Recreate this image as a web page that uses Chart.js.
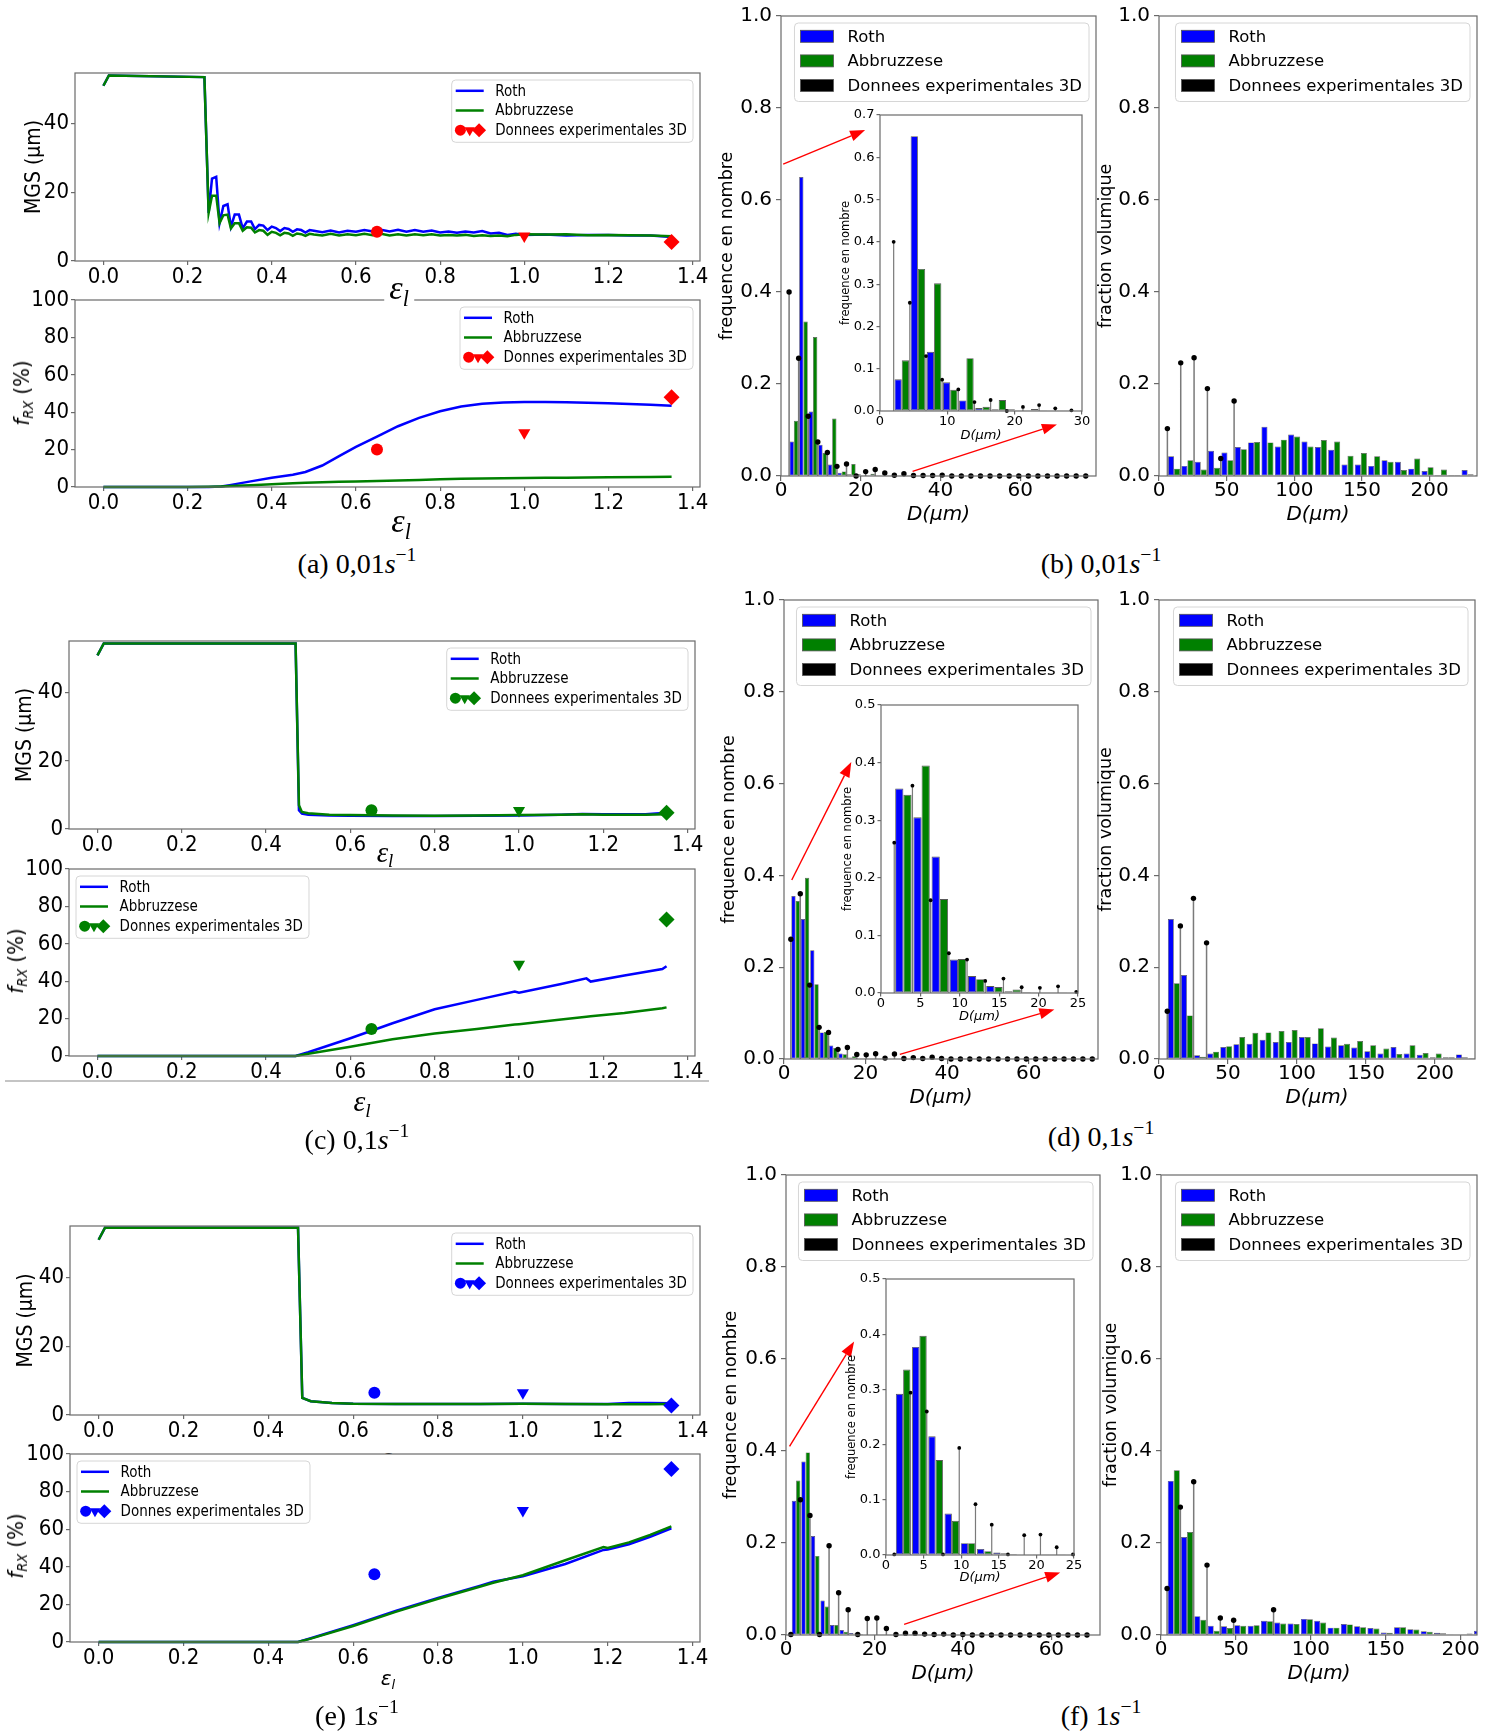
<!DOCTYPE html>
<html lang="fr">
<head>
<meta charset="UTF-8">
<title>MGS, fRX et distributions de tailles de grains</title>
<script src="https://cdn.jsdelivr.net/npm/chart.js"></script>
<style>
  html, body { margin: 0; padding: 0; background: #fff; }
  #fig { position: relative; width: 1494px; height: 1735px; overflow: hidden; background: #fff; }
  #fig canvas { position: absolute; z-index: 1; }
  .t { position: absolute; z-index: 2; transform: translate(-50%, -50%); white-space: nowrap; color: #000; line-height: 1; }
  .t sub { font-size: 0.65em; vertical-align: -0.3em; line-height: 0; }
  .t sup { font-size: 0.7em; vertical-align: 0.6em; line-height: 0; }
  .cap { font-family: 'Liberation Serif', 'DejaVu Serif', serif; font-size: 28px; }
  .eps { font-family: 'Liberation Serif', 'DejaVu Serif', serif; font-style: italic; }
  .rot { transform: translate(-50%, -50%) rotate(-90deg); }
</style>
</head>
<body>
<div id="fig"></div>
<script>
// ---------- axes shared by the line plots ----------
const epsTicks = [0.0, 0.2, 0.4, 0.6, 0.8, 1.0, 1.2, 1.4];
const mgsTicks = [0, 20, 40];
const frxTicks = [0, 20, 40, 60, 80, 100];
const expEps = [0.65, 1.0, 1.35];

// ---------- (a) 0,01 s-1 ----------
const aMgsX = [0, 0.013, 0.24, 0.25, 0.258, 0.268, 0.276, 0.285, 0.295, 0.303,
  0.312, 0.322, 0.331, 0.341, 0.351, 0.36, 0.37, 0.38, 0.39, 0.4,
  0.41, 0.42, 0.43, 0.44, 0.45, 0.46, 0.47, 0.48, 0.49, 0.5,
  0.52, 0.54, 0.56, 0.58, 0.6, 0.62, 0.64, 0.66, 0.68, 0.7,
  0.72, 0.74, 0.76, 0.78, 0.8, 0.82, 0.84, 0.86, 0.88, 0.9,
  0.92, 0.94, 0.96, 0.98, 1.0, 1.05, 1.1, 1.15, 1.2, 1.25, 1.3, 1.35];
const aMgsRoth = [51, 54, 53.5, 14, 24, 24.5, 11, 16, 16.5, 10,
  13.5, 13.5, 9.5, 11.5, 11.5, 9.3, 10.5, 10.3, 9, 10,
  9.6, 8.7, 9.6, 9.3, 8.5, 9.2, 9, 8.3, 9, 8.8,
  8.4, 8.9, 8.3, 8.8, 8.5, 9, 8.6, 9.1, 8.6, 9.1,
  8.5, 9, 8.5, 8.9, 8.3, 8.6, 8.2, 8.6, 8.3, 8.7,
  8, 8.2, 7.6, 7.9, 7.6, 7.7, 7.4, 7.6, 7.6, 7.4, 7.4, 7];
const aMgsAbbr = [51, 54, 53.5, 14, 19, 19, 11, 13.3, 13.5, 9.5,
  11, 11, 8.8, 9.8, 9.7, 8.3, 9, 8.8, 7.6, 8.5,
  8.2, 7.5, 8.2, 8, 7.3, 8, 7.8, 7.3, 7.9, 7.7,
  7.4, 7.9, 7.4, 7.8, 7.5, 7.9, 7.5, 7.9, 7.4, 7.8,
  7.4, 7.8, 7.5, 7.8, 7.4, 7.6, 7.4, 7.6, 7.3, 7.5,
  7.3, 7.4, 7.2, 7.6, 7.8, 7.7, 7.8, 7.5, 7.6, 7.5, 7.4, 7.2];
const aMgsExp = [8.5, 7.3, 5.5];

const aFrxX = [0, 0.1, 0.2, 0.25, 0.28, 0.3, 0.35, 0.4, 0.45, 0.48, 0.52, 0.56, 0.6,
  0.65, 0.7, 0.75, 0.8, 0.85, 0.9, 0.95, 1.0, 1.05, 1.1, 1.2, 1.3, 1.35];
const aFrxRoth = [0, 0, 0, 0, 0.3, 1, 3, 5, 6.5, 8, 11.5, 16.5, 21.5,
  27, 32.5, 37, 40.5, 43, 44.5, 45.2, 45.5, 45.5, 45.3, 44.8, 44, 43.5];
const aFrxAbbr = [0, 0, 0, 0.1, 0.3, 0.5, 1, 1.5, 2, 2.3, 2.6, 2.8, 3,
  3.2, 3.5, 3.8, 4.2, 4.4, 4.5, 4.7, 4.8, 4.9, 5, 5.2, 5.4, 5.5];
const aFrxExp = [20, 29, 48];

// ---------- (c) 0,1 s-1 ----------
const cMgsX = [0, 0.015, 0.47, 0.478, 0.485, 0.5, 0.55, 0.6, 0.7, 0.8, 0.9, 1.0, 1.1, 1.15, 1.2, 1.3, 1.35];
const cMgsRoth = [51, 54.5, 54.5, 5.5, 4.5, 4.2, 4, 3.9, 3.8, 3.8, 3.9, 4, 4.2, 4.4, 4.3, 4.3, 4.8];
const cMgsAbbr = [51, 54.5, 54.5, 7, 5, 4.6, 4.2, 4.1, 4, 3.9, 4, 4.1, 4.2, 4.3, 4.2, 4.2, 4.3];
const cMgsExp = [5.5, 5.4, 4.8];

const cFrxX = [0, 0.47, 0.5, 0.6, 0.65, 0.7, 0.8, 0.9, 0.99, 1.0, 1.1, 1.16, 1.17, 1.25, 1.34, 1.35];
const cFrxRoth = [0, 0, 2, 9.5, 13.5, 17.5, 25, 30, 34.5, 33.8, 38.5, 41.5, 39.8, 43, 46.5, 48];
const cFrxAbbr = [0, 0, 1.2, 5, 7, 9, 12, 14.5, 16.8, 17, 19.5, 21, 21.3, 23, 25.5, 26];
const cFrxExp = [14.5, 49, 73];

// ---------- (e) 1 s-1 ----------
const eMgsX = [0, 0.015, 0.47, 0.48, 0.5, 0.55, 0.6, 0.7, 0.8, 0.9, 1.0, 1.1, 1.2, 1.25, 1.3, 1.35];
const eMgsRoth = [51, 54.5, 54.5, 5, 4, 3.5, 3.3, 3.2, 3.2, 3.2, 3.3, 3.2, 3.2, 3.5, 3.5, 3.4];
const eMgsAbbr = [51, 54.5, 54.5, 5, 4, 3.5, 3.3, 3.2, 3.2, 3.2, 3.3, 3.2, 3.1, 3.1, 3.1, 3.2];
const eMgsExp = [6.5, 6.5, 2.8];

const eFrxX = [0, 0.47, 0.5, 0.6, 0.7, 0.8, 0.9, 0.93, 1.0, 1.1, 1.19, 1.2, 1.25, 1.3, 1.35];
const eFrxRoth = [0, 0, 2, 9, 16.5, 23.5, 30, 32, 35, 41.5, 49, 49.2, 52, 56, 60.5];
const eFrxAbbr = [0, 0, 1.8, 8.5, 16, 23, 29.5, 31.5, 35.5, 43.5, 50.5, 50, 53, 57, 61.5];
const eFrxExp = [36, 70, 92];

// ---------- histogram ticks ----------
const fracTicks = [0, 0.2, 0.4, 0.6, 0.8, 1.0];
const numTicks = [0, 20, 40, 60];
const volTicks = [0, 50, 100, 150, 200];
const insetBxTicks = [0, 10, 20, 30];
const insetByTicks = [0, 0.1, 0.2, 0.3, 0.4, 0.5, 0.6, 0.7];
const insetxTicks = [0, 5, 10, 15, 20, 25];
const insetyTicks = [0, 0.1, 0.2, 0.3, 0.4, 0.5];

// ---------- (b) number / volume distributions ----------
const bNumD = [3.23, 5.63, 8.03, 10.43, 12.83, 15.23, 17.63, 20.03, 22.43, 24.83, 27.23, 29.63];
const bNumRoth = [0.075, 0.65, 0.14, 0.068, 0.025, 0.007, 0.004, 0.004, 0.0016, 0.0016, 0.0016, 0.001];
const bNumAbbr = [0.12, 0.336, 0.302, 0.05, 0.125, 0.01, 0.026, 0.0016, 0.005, 0.001, 0.0005, 0.0005];
const bNumExpD = [2.03, 4.43, 6.83, 9.23, 11.63, 14.03, 16.43, 18.83, 21.23, 23.63, 26.03, 28.43,
  30.83, 33.23, 35.63, 38.03, 40.43, 42.83, 45.23, 47.63, 50.03, 52.43, 54.83, 57.23,
  59.63, 62.03, 64.43, 66.83, 69.23, 71.63, 74.03, 76.43];
const bNumExp = [0.40, 0.256, 0.13, 0.074, 0.051, 0.021, 0.026, 0, 0.0096, 0.014, 0.0064, 0.0016,
  0.005, 0.001, 0.001, 0.001, 0.002, 0, 0, 0, 0, 0, 0, 0,
  0, 0, 0, 0, 0, 0, 0, 0];

const bVolD = [11.13, 20.99, 30.85, 40.71, 50.57, 60.43, 70.29, 80.15, 90.01, 99.87, 109.73, 119.59,
  129.45, 139.31, 149.17, 159.03, 168.89, 178.75, 188.61, 198.47, 208.33, 218.19, 228.05, 237.91];
const bVolRoth = [0.043, 0.022, 0.031, 0.055, 0.051, 0.063, 0.073, 0.107, 0.064, 0.09, 0.075, 0.063,
  0.057, 0.025, 0.025, 0.022, 0.034, 0.031, 0.016, 0.011, 0.002, 0.002, 0.013, 0.002];
const bVolAbbr = [0.016, 0.034, 0.014, 0.018, 0.034, 0.058, 0.074, 0.073, 0.079, 0.086, 0.064, 0.078,
  0.075, 0.044, 0.05, 0.043, 0.031, 0.013, 0.038, 0.019, 0.014, 0.002, 0.004, 0];
const bVolExpD = [6.2, 16.06, 25.92, 35.78, 45.64, 55.5];
const bVolExp = [0.103, 0.246, 0.257, 0.19, 0.038, 0.163];

// ---------- (d) ----------
const dNumD = [2.84, 5.15, 7.46, 9.77, 12.08, 14.39, 16.70, 19.01, 21.32, 23.63];
const dNumRoth = [0.355, 0.305, 0.237, 0.058, 0.0295, 0.012, 0.003, 0.0017, 0.0006, 0.0003];
const dNumAbbr = [0.344, 0.395, 0.163, 0.059, 0.024, 0.0104, 0.006, 0.0006, 0.0003, 0];
const dNumExpD = [1.68, 3.99, 6.30, 8.61, 10.92, 13.23, 15.54, 17.85, 20.16, 22.47, 24.78,
  27.09, 29.40, 31.71, 34.02, 36.33, 38.64, 40.95, 43.26, 45.57, 47.88, 50.19,
  52.50, 54.81, 57.12, 59.43, 61.74, 64.05, 66.36, 68.67, 70.98, 73.29, 75.60];
const dNumExp = [0.261, 0.36, 0.161, 0.069, 0.058, 0.021, 0.025, 0.010, 0.009, 0.0116, 0.002,
  0.011, 0.001, 0.003, 0.001, 0.004, 0.001, 0, 0, 0, 0, 0,
  0, 0, 0, 0, 0, 0, 0, 0, 0, 0, 0];

const dVolD = [10.75, 20.24, 29.73, 39.22, 48.71, 58.20, 67.69, 77.18, 86.67, 96.16, 105.65, 115.14,
  124.63, 134.12, 143.61, 153.10, 162.59, 172.08, 181.57, 191.06, 200.55, 210.04, 219.53, 229.02];
const dVolRoth = [0.305, 0.183, 0.008, 0.012, 0.026, 0.032, 0.033, 0.042, 0.037, 0.037, 0.048, 0.034,
  0.027, 0.03, 0.025, 0.017, 0.012, 0.026, 0.012, 0.009, 0.004, 0.004, 0.01, 0.002];
const dVolAbbr = [0.165, 0.095, 0.005, 0.016, 0.028, 0.048, 0.057, 0.058, 0.061, 0.063, 0.048, 0.067,
  0.047, 0.033, 0.039, 0.03, 0.023, 0.011, 0.03, 0.013, 0.012, 0.004, 0.004, 0];
const dVolExpD = [6.0, 15.49, 24.98, 34.47];
const dVolExp = [0.104, 0.29, 0.35, 0.253];

// ---------- (f) ----------
const fNumD = [2.28, 4.44, 6.60, 8.76, 10.92, 13.08, 15.24, 17.40, 19.56, 21.72, 23.88];
const fNumRoth = [0.292, 0.377, 0.215, 0.075, 0.0215, 0.011, 0.0046, 0.002, 0.001, 0.0005, 0.0003];
const fNumAbbr = [0.336, 0.397, 0.172, 0.062, 0.0215, 0.007, 0.003, 0.001, 0.0005, 0.0003, 0];
const fNumExpD = [1.1, 3.26, 5.42, 7.58, 9.74, 11.90, 14.06, 16.22, 18.38, 20.54, 22.70,
  24.86, 27.02, 29.18, 31.34, 33.50, 35.66, 37.82, 39.98, 42.14, 44.30, 46.46,
  48.62, 50.78, 52.94, 55.10, 57.26, 59.42, 61.58, 63.74, 65.90, 68.06];
const fNumExp = [0.001, 0.294, 0.26, 0.001, 0.194, 0.092, 0.055, 0.001, 0.036, 0.037, 0.014,
  0.001, 0.004, 0.004, 0.002, 0.001, 0.002, 0, 0.001, 0, 0, 0,
  0, 0, 0, 0, 0, 0, 0, 0, 0, 0];

const fVolD = [8.5, 17.39, 26.28, 35.17, 44.06, 52.95, 61.84, 70.73, 79.62, 88.51, 97.4, 106.29,
  115.18, 124.07, 132.96, 141.85, 150.74, 159.63, 168.52, 177.41, 186.3, 195.19, 204.08, 212.97];
const fVolRoth = [0.335, 0.213, 0.041, 0.02, 0.019, 0.021, 0.02, 0.031, 0.027, 0.025, 0.035, 0.031,
  0.016, 0.024, 0.019, 0.015, 0.0055, 0.017, 0.0125, 0.008, 0.0047, 0.0016, 0.0016, 0.0094];
const fVolAbbr = [0.358, 0.224, 0.033, 0.0094, 0.015, 0.02, 0.021, 0.03, 0.025, 0.024, 0.034, 0.027,
  0.016, 0.023, 0.017, 0.014, 0.0047, 0.017, 0.0118, 0.007, 0.004, 0, 0.003, 0];
const fVolExpD = [4.05, 12.94, 21.83, 30.72, 39.61, 48.5, 75.17];
const fVolExp = [0.101, 0.278, 0.333, 0.152, 0.037, 0.032, 0.055];

// zoom arrows, in data units of the main number histogram: [x0, y0, x1, y1]
const bArrows = [[0.55, 0.678, 21.1, 0.752], [33, 0.01, 69.2, 0.112]];
const dArrows = [[1.9, 0.39, 16.5, 0.647], [28.4, 0.01, 66.3, 0.108]];
const fArrows = [[0.8, 0.41, 15.4, 0.638], [26.7, 0.023, 62, 0.136]];

// ---------- drawing ----------
const fig = document.getElementById('fig');
const COND = "'DejaVu Sans Condensed', 'Liberation Sans Narrow', 'DejaVu Sans', sans-serif";
const SANS = "'DejaVu Sans', sans-serif";
const BLUE = '#0000ff', GREEN = '#008000', RED = '#ff0000';
const SPINE = '#6a6a6a';

// white axes background + full box around the plot area
const frame = {
  id: 'frame',
  beforeDraw(chart) {
    const {ctx, chartArea: a} = chart;
    ctx.save();
    ctx.fillStyle = '#fff';
    ctx.fillRect(a.left, a.top, a.right - a.left, a.bottom - a.top);
    ctx.restore();
  },
  afterDatasetsDraw(chart) {
    const {ctx, chartArea: a} = chart;
    ctx.save();
    ctx.strokeStyle = SPINE;
    ctx.lineWidth = 1.2;
    ctx.strokeRect(a.left, a.top, a.right - a.left, a.bottom - a.top);
    ctx.restore();
  }
};

// matplotlib-like legend box inside the axes
const boxLegend = {
  id: 'boxLegend',
  afterDatasetsDraw(chart, args, o) {
    if (!o.items) return;
    const {ctx, chartArea: a} = chart;
    ctx.save();
    ctx.font = o.size + 'px ' + o.family;
    const tw = Math.max(...o.items.map(it => ctx.measureText(it.text).width));
    const w = o.padL + o.handleW + o.gap + tw + o.padR;
    const h = o.padT + o.rowH * (o.items.length - 1) + o.padB;
    const x0 = o.loc === 'ul' ? a.left + o.margin : a.right - o.margin - w;
    const y0 = a.top + o.margin;
    ctx.beginPath();
    ctx.roundRect(x0, y0, w, h, 4);
    ctx.fillStyle = 'rgba(255,255,255,0.85)';
    ctx.fill();
    ctx.strokeStyle = '#d6d6d6';
    ctx.lineWidth = 1;
    ctx.stroke();
    o.items.forEach((it, i) => {
      const yc = y0 + o.padT + i * o.rowH;
      const hx = x0 + o.padL;
      if (it.kind === 'line') {
        ctx.strokeStyle = it.color;
        ctx.lineWidth = 2.5;
        ctx.beginPath();
        ctx.moveTo(hx, yc);
        ctx.lineTo(hx + o.handleW, yc);
        ctx.stroke();
      } else if (it.kind === 'rect') {
        ctx.fillStyle = it.color;
        ctx.fillRect(hx, yc - o.handleH / 2, o.handleW, o.handleH);
        ctx.strokeStyle = '#555';
        ctx.lineWidth = 0.8;
        ctx.strokeRect(hx, yc - o.handleH / 2, o.handleW, o.handleH);
      } else {
        ctx.fillStyle = it.color;
        ctx.strokeStyle = it.color;
        const styles = [['circle', 0, 5.5], ['triangle', 180, 6], ['rectRot', 0, 7]];
        styles.forEach(([ps, rot, r], k) => {
          Chart.helpers.drawPoint(ctx, {pointStyle: ps, rotation: rot, radius: r, borderWidth: 0},
            hx + o.handleW * (k + 0.5) / 3, yc);
        });
      }
      ctx.fillStyle = '#000';
      ctx.textBaseline = 'middle';
      ctx.textAlign = 'left';
      ctx.fillText(it.text, hx + o.handleW + o.gap, yc + 1);
    });
    ctx.restore();
  }
};

// red zoom arrows
const arrows = {
  id: 'arrows',
  afterDraw(chart, args, o) {
    if (!o.list) return;
    const {ctx, scales} = chart;
    ctx.save();
    ctx.strokeStyle = RED;
    ctx.fillStyle = RED;
    ctx.lineWidth = 1.4;
    o.list.forEach(([xa, ya, xb, yb]) => {
      const x1 = scales.x.getPixelForValue(xa), y1 = scales.y.getPixelForValue(ya);
      const x2 = scales.x.getPixelForValue(xb), y2 = scales.y.getPixelForValue(yb);
      const ang = Math.atan2(y2 - y1, x2 - x1);
      const L = 15, W = 5.5, c = Math.cos(ang), s = Math.sin(ang);
      ctx.beginPath();
      ctx.moveTo(x1, y1);
      ctx.lineTo(x2 - L * c, y2 - L * s);
      ctx.stroke();
      ctx.beginPath();
      ctx.moveTo(x2, y2);
      ctx.lineTo(x2 - L * c + W * s, y2 - L * s - W * c);
      ctx.lineTo(x2 - L * c - W * s, y2 - L * s + W * c);
      ctx.closePath();
      ctx.fill();
    });
    ctx.restore();
  }
};

Chart.register(frame, boxLegend, arrows);

function addCanvas(box, m) {
  const c = document.createElement('canvas');
  c.width = box.r - box.l + m.l + m.r;
  c.height = box.b - box.t + m.t + m.b;
  c.style.left = (box.l - m.l) + 'px';
  c.style.top = (box.t - m.t) + 'px';
  fig.appendChild(c);
  return c;
}

function pts(xs, ys) {
  return xs.map((x, i) => ({x: x, y: ys[i]}));
}

// stem plot as one broken line: base, top, gap for every experimental point
function stems(xs, ys) {
  const out = [];
  xs.forEach((x, i) => { out.push({x: x, y: 0}, {x: x, y: ys[i]}, {x: x, y: null}); });
  return out;
}

function axis(list, family, size, tickLen, fmt) {
  return {
    type: 'linear',
    afterBuildTicks: s => { s.ticks = list.map(v => ({value: v})); },
    ticks: {font: {family: family, size: size, lineHeight: 1}, color: '#000', padding: 3,
      maxRotation: 0, autoSkip: false, callback: fmt},
    grid: {drawOnChartArea: false, drawTicks: true, tickLength: tickLen, color: SPINE, lineWidth: 1.2},
    border: {display: false}
  };
}

function baseOptions(m, scales, plugins) {
  scales.x.afterFit = s => { s.height = m.b; };
  scales.y.afterFit = s => { s.width = m.l; };
  return {
    responsive: false,
    animation: false,
    events: [],
    layout: {padding: {left: 0, top: m.t, right: m.r, bottom: 0}},
    scales: scales,
    plugins: Object.assign({legend: {display: false}, tooltip: {enabled: false}}, plugins)
  };
}

const lineLegendStyle = {family: COND, size: 15, padL: 4, handleW: 28, gap: 11.5, padR: 6,
  padT: 10.8, rowH: 19.7, padB: 12.1, margin: 7, handleH: 0};
const histLegendStyle = {family: SANS, size: 16.5, padL: 6, handleW: 33, handleH: 12, gap: 14, padR: 7,
  padT: 13.3, rowH: 24.6, padB: 16, margin: 7, loc: 'ur'};

function lineFigure(box, m, d) {
  const c = addCanvas(box, m);
  const x = axis(epsTicks, COND, 22, 4, v => v.toFixed(1));
  x.min = -0.0675;
  x.max = 1.4175;
  x.ticks.padding = 1;
  const y = axis(d.yTicks, COND, 22, 4, v => String(v));
  y.min = 0;
  y.max = d.yMax;
  y.ticks.padding = 2;
  if (d.yTitle) {
    y.title = {display: true, text: d.yTitle, color: '#000', padding: 0, font: {family: COND, size: 21}};
  }
  return new Chart(c, {
    type: 'scatter',
    data: {datasets: [
      {label: 'Roth', data: pts(d.rothX, d.roth), showLine: true, borderColor: BLUE,
        borderWidth: 2.5, pointRadius: 0, order: 2, clip: 3},
      {label: 'Abbruzzese', data: pts(d.abbrX, d.abbr), showLine: true, borderColor: GREEN,
        borderWidth: 2.5, pointRadius: 0, order: 1, clip: 3},
      {label: d.expLabel, data: pts(expEps, d.exp), pointStyle: ['circle', 'triangle', 'rectRot'],
        pointRotation: [0, 180, 0], pointRadius: [6, 7, 8], backgroundColor: d.mark,
        borderColor: d.mark, borderWidth: 0, order: 0, clip: false}
    ]},
    options: baseOptions(m, {x: x, y: y}, {
      boxLegend: Object.assign({}, lineLegendStyle, {loc: d.loc, items: [
        {kind: 'line', color: BLUE, text: 'Roth'},
        {kind: 'line', color: GREEN, text: 'Abbruzzese'},
        {kind: 'marks', color: d.mark, text: d.expLabel}
      ]})
    })
  });
}

function histFigure(box, m, d) {
  const c = addCanvas(box, m);
  const small = !!d.small;
  const x = axis(d.xTicks, SANS, small ? 13 : 20, small ? 3.5 : 5, v => String(v));
  x.min = 0;
  x.max = d.xMax;
  x.offset = false;
  x.grid.offset = false;
  x.ticks.padding = small ? 1 : 0;
  x.title = {display: true, text: 'D(μm)', color: '#000', padding: 0,
    font: {family: SANS, size: small ? 13 : 20, style: 'italic'}};
  const y = axis(d.yTicks, SANS, small ? 13 : 20, small ? 3.5 : 5, v => v.toFixed(1));
  y.min = 0;
  y.max = d.yMax;
  y.ticks.padding = small ? 2 : 4;
  y.title = {display: true, text: d.yTitle || 'frequence en nombre', color: '#000', padding: 0,
    font: {family: SANS, size: small ? 11.5 : 17.5}};
  const edge = small ? 0.9 : 0.7;
  const bars = (label, vals, color) => ({
    type: 'bar', label: label, data: pts(d.centers, vals),
    backgroundColor: color, borderColor: 'rgba(60,60,60,0.85)', borderWidth: edge,
    borderSkipped: false, categoryPercentage: 0.9, barPercentage: 1, order: 2
  });
  const plugins = {};
  if (d.legend) {
    plugins.boxLegend = Object.assign({}, histLegendStyle, {items: [
      {kind: 'rect', color: BLUE, text: 'Roth'},
      {kind: 'rect', color: GREEN, text: 'Abbruzzese'},
      {kind: 'rect', color: '#000', text: 'Donnees experimentales 3D'}
    ]});
  }
  if (d.arrows) plugins.arrows = {list: d.arrows};
  return new Chart(c, {
    type: 'bar',
    data: {datasets: [
      bars('Roth', d.roth, BLUE),
      bars('Abbruzzese', d.abbr, GREEN),
      {type: 'line', label: 'stems', data: stems(d.expX, d.expY), spanGaps: false,
        borderColor: '#7a7a7a', borderWidth: small ? 1.2 : 1.5, pointRadius: 0, order: 1, clip: false},
      {type: 'scatter', label: 'Donnees experimentales 3D', data: pts(d.expX, d.expY),
        pointRadius: small ? 1.9 : 2.7, backgroundColor: '#000', borderWidth: 0, order: 0, clip: false}
    ]},
    options: baseOptions(m, {x: x, y: y}, plugins)
  });
}

function text(html, cls, x, y, style) {
  const s = document.createElement('span');
  s.className = 't ' + cls;
  s.innerHTML = html;
  s.style.left = x + 'px';
  s.style.top = y + 'px';
  if (style) s.style.cssText += style;
  fig.appendChild(s);
  return s;
}

const MGS_LBL = 'Donnees experimentales 3D';
const FRX_LBL = 'Donnes experimentales 3D';
const mMgsA = {l: 53, r: 22, t: 12, b: 35};
const mMgs = {l: 56, r: 22, t: 12, b: 35};
const mFrx = {l: 58, r: 22, t: 12, b: 35};

// label of the (e) MGS strain axis sits behind the lower plot
text('ε<sub>l</sub>', '', 389, 1457, "font-family:'DejaVu Sans',sans-serif;font-style:italic;font-size:20px;z-index:0");

// ----- column 1: MGS and fRX vs strain -----
lineFigure({l: 75, t: 72, r: 700, b: 261}, mMgsA, {rothX: aMgsX, roth: aMgsRoth, abbrX: aMgsX, abbr: aMgsAbbr,
  exp: aMgsExp, mark: RED, yTicks: mgsTicks, yMax: 54.7, yTitle: 'MGS (μm)', loc: 'ur', expLabel: MGS_LBL});
lineFigure({l: 75, t: 299, r: 700, b: 487}, mFrx, {rothX: aFrxX, roth: aFrxRoth, abbrX: aFrxX, abbr: aFrxAbbr,
  exp: aFrxExp, mark: RED, yTicks: frxTicks, yMax: 100, loc: 'ur', expLabel: FRX_LBL});

lineFigure({l: 69, t: 640, r: 695, b: 829}, mMgs, {rothX: cMgsX, roth: cMgsRoth, abbrX: cMgsX, abbr: cMgsAbbr,
  exp: cMgsExp, mark: GREEN, yTicks: mgsTicks, yMax: 55.2, yTitle: 'MGS (μm)', loc: 'ur', expLabel: MGS_LBL});
lineFigure({l: 69, t: 868, r: 695, b: 1056}, mFrx, {rothX: cFrxX, roth: cFrxRoth, abbrX: cFrxX, abbr: cFrxAbbr,
  exp: cFrxExp, mark: GREEN, yTicks: frxTicks, yMax: 100, loc: 'ul', expLabel: FRX_LBL});

lineFigure({l: 70, t: 1225, r: 700, b: 1415}, mMgs, {rothX: eMgsX, roth: eMgsRoth, abbrX: eMgsX, abbr: eMgsAbbr,
  exp: eMgsExp, mark: BLUE, yTicks: mgsTicks, yMax: 55, yTitle: 'MGS (μm)', loc: 'ur', expLabel: MGS_LBL});
lineFigure({l: 70, t: 1453, r: 700, b: 1642}, mFrx, {rothX: eFrxX, roth: eFrxRoth, abbrX: eFrxX, abbr: eFrxAbbr,
  exp: eFrxExp, mark: BLUE, yTicks: frxTicks, yMax: 100, loc: 'ul', expLabel: FRX_LBL});

// ----- columns 2 and 3: histograms -----
const mHist = {t: 20, r: 20, b: 51};
histFigure({l: 781, t: 16, r: 1096, b: 476}, Object.assign({l: 64}, mHist), {centers: bNumD, roth: bNumRoth,
  abbr: bNumAbbr, expX: bNumExpD, expY: bNumExp, xMax: 79, xTicks: numTicks, yMax: 1, yTicks: fracTicks,
  legend: true, arrows: bArrows});
histFigure({l: 880, t: 115, r: 1082, b: 411}, {l: 41, t: 10, r: 12, b: 32}, {small: true, centers: bNumD,
  roth: bNumRoth, abbr: bNumAbbr, expX: bNumExpD, expY: bNumExp, xMax: 30, xTicks: insetBxTicks,
  yMax: 0.7, yTicks: insetByTicks});
histFigure({l: 1159, t: 16, r: 1477, b: 476}, Object.assign({l: 63}, mHist), {centers: bVolD, roth: bVolRoth,
  abbr: bVolAbbr, expX: bVolExpD, expY: bVolExp, xMax: 235, xTicks: volTicks, yMax: 1, yTicks: fracTicks,
  legend: true, yTitle: 'fraction volumique'});

histFigure({l: 784, t: 600, r: 1098, b: 1059}, Object.assign({l: 65}, mHist), {centers: dNumD, roth: dNumRoth,
  abbr: dNumAbbr, expX: dNumExpD, expY: dNumExp, xMax: 77, xTicks: numTicks, yMax: 1, yTicks: fracTicks,
  legend: true, arrows: dArrows});
histFigure({l: 881, t: 705, r: 1078, b: 993}, {l: 40, t: 10, r: 12, b: 31}, {small: true, centers: dNumD,
  roth: dNumRoth, abbr: dNumAbbr, expX: dNumExpD, expY: dNumExp, xMax: 25, xTicks: insetxTicks,
  yMax: 0.5, yTicks: insetyTicks});
histFigure({l: 1159, t: 600, r: 1475, b: 1059}, Object.assign({l: 63}, mHist), {centers: dVolD, roth: dVolRoth,
  abbr: dVolAbbr, expX: dVolExpD, expY: dVolExp, xMax: 229, xTicks: volTicks, yMax: 1, yTicks: fracTicks,
  legend: true, yTitle: 'fraction volumique'});

histFigure({l: 786, t: 1175, r: 1100, b: 1635}, Object.assign({l: 65}, mHist), {centers: fNumD, roth: fNumRoth,
  abbr: fNumAbbr, expX: fNumExpD, expY: fNumExp, xMax: 71, xTicks: numTicks, yMax: 1, yTicks: fracTicks,
  legend: true, arrows: fArrows});
histFigure({l: 886, t: 1279, r: 1074, b: 1555}, {l: 41, t: 10, r: 12, b: 30}, {small: true, centers: fNumD,
  roth: fNumRoth, abbr: fNumAbbr, expX: fNumExpD, expY: fNumExp, xMax: 25, xTicks: insetxTicks,
  yMax: 0.5, yTicks: insetyTicks});
histFigure({l: 1161, t: 1175, r: 1477, b: 1635}, Object.assign({l: 60}, mHist), {centers: fVolD, roth: fVolRoth,
  abbr: fVolAbbr, expX: fVolExpD, expY: fVolExp, xMax: 211, xTicks: volTicks, yMax: 1, yTicks: fracTicks,
  legend: true, yTitle: 'fraction volumique'});

// ----- axis labels with sub/superscripts, captions -----
const frxTitle = '<i>f</i><sub><i>RX</i></sub> (%)';
const frxFont = 'font-family:' + COND + ';font-size:22px';
text(frxTitle, 'rot', 22, 393, frxFont);
text(frxTitle, 'rot', 16, 961, frxFont);
text(frxTitle, 'rot', 16, 1546, frxFont);

text('ε<sub>l</sub>', 'eps', 399, 288, 'font-size:34px;background:#fff;padding:0 5px');
text('ε<sub>l</sub>', 'eps', 401, 521, 'font-size:34px');
text('ε<sub>l</sub>', 'eps', 385, 852, 'font-size:29px;background:#fff;padding:0 4px');
text('ε<sub>l</sub>', 'eps', 362, 1101, 'font-size:30px');
text('ε<sub>l</sub>', '', 388, 1678, "font-family:'DejaVu Sans',sans-serif;font-style:italic;font-size:20px");

const sep = document.createElement('div');
sep.style.cssText = 'position:absolute;z-index:2;left:5px;top:1080px;width:704px;height:1.5px;background:#c4c4c4';
fig.appendChild(sep);

text('(a) 0,01<i>s</i><sup>−1</sup>', 'cap', 357, 564);
text('(b) 0,01<i>s</i><sup>−1</sup>', 'cap', 1101, 564);
text('(c) 0,1<i>s</i><sup>−1</sup>', 'cap', 357, 1140);
text('(d) 0,1<i>s</i><sup>−1</sup>', 'cap', 1101, 1137);
text('(e) 1<i>s</i><sup>−1</sup>', 'cap', 357, 1716);
text('(f) 1<i>s</i><sup>−1</sup>', 'cap', 1101, 1716);
</script>
</body>
</html>
